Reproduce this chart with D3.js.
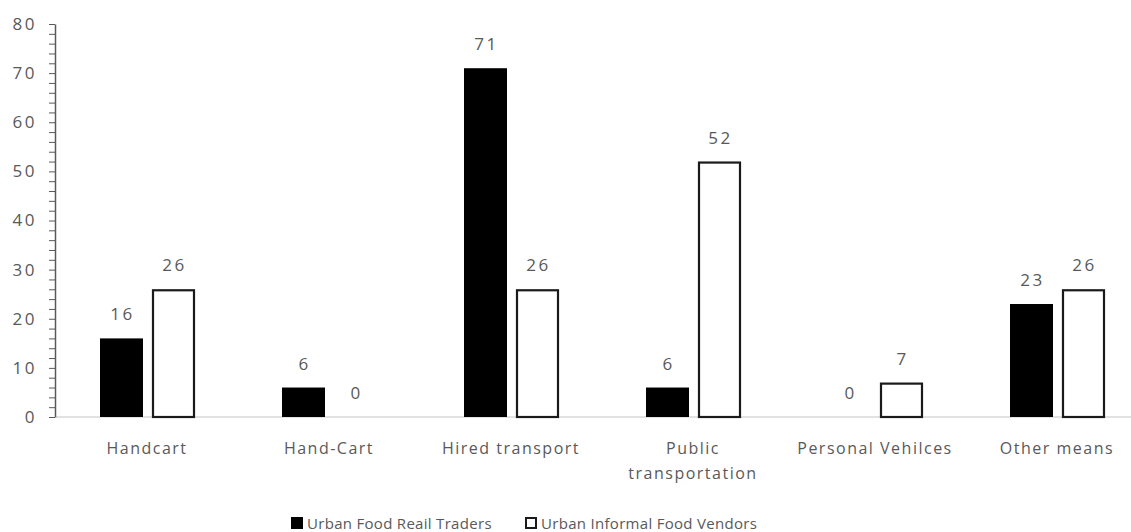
<!DOCTYPE html>
<html>
<head>
<meta charset="utf-8">
<script src="https://cdn.jsdelivr.net/npm/d3@7"></script>
<style>
  html, body { margin: 0; padding: 0; background: #fff; }
  svg { display: block; font-family: "Open Sans", "Noto Sans", sans-serif; }
</style>
</head>
<body>
<svg id="chart" width="1131" height="532"></svg>
<script>
// Means of transport used, by trader group (%)
const categories = ["Handcart", "Hand-Cart", "Hired transport", "Public transportation", "Personal Vehilces", "Other means"];
const seriesNames = ["Urban Food Reail Traders", "Urban Informal Food Vendors"];
const retailTraders = [16, 6, 71, 6, 0, 23];
const informalVendors = [26, 0, 26, 52, 7, 26];
const yTicks = [0, 10, 20, 30, 40, 50, 60, 70, 80];

const svg = d3.select("#chart");
const textColor = "#595959";
const fontFamily = "\"Open Sans\", \"Noto Sans\", sans-serif";

const x = d3.scaleBand().domain(categories).range([56, 1148]).paddingInner(0).paddingOuter(0);
const y = d3.scaleLinear().domain([0, 80]).range([417, 24]);

// two bars per category, placed inside each band
const inner = d3.scaleBand().domain(seriesNames).range([44, 139]).paddingInner(0.173).paddingOuter(0);

// baseline
svg.append("line")
  .attr("x1", 56).attr("x2", 1131)
  .attr("y1", y(0)).attr("y2", y(0))
  .attr("stroke", "#d9d9d9").attr("stroke-width", 1.5);

// y axis with minor ticks every 2
const yAxisG = svg.append("g").attr("transform", "translate(55,0)");
yAxisG.append("g")
  .call(d3.axisLeft(y).tickValues(d3.range(0, 81, 2)).tickSize(6).tickFormat(""))
  .call(g => g.select(".domain").remove())
  .call(g => g.selectAll("line").attr("stroke", "#595959").attr("stroke-width", 1));
yAxisG.append("g")
  .call(d3.axisLeft(y).tickValues(yTicks).tickSize(0).tickPadding(18))
  .call(g => g.select(".domain").attr("stroke", "#595959").attr("stroke-width", 1.5))
  .call(g => g.selectAll("text").attr("fill", textColor).attr("font-size", 17)
    .attr("letter-spacing", 2.5).attr("font-family", fontFamily));

const data = categories.map((c, i) => ({ cat: c, values: [
  { s: seriesNames[0], v: retailTraders[i] },
  { s: seriesNames[1], v: informalVendors[i] }
]}));

const groups = svg.append("g").selectAll("g").data(data).join("g")
  .attr("transform", d => `translate(${x(d.cat)},0)`);

groups.selectAll("rect").data(d => d.values.filter(e => e.v > 0)).join("rect")
  .attr("x", d => inner(d.s) + (d.s === seriesNames[1] ? 1 : 0))
  .attr("width", d => inner.bandwidth() - (d.s === seriesNames[1] ? 2 : 0))
  .attr("y", d => y(d.v) + (d.s === seriesNames[1] ? 1 : 0))
  .attr("height", d => y(0) - y(d.v) - (d.s === seriesNames[1] ? 1 : 0))
  .attr("fill", d => d.s === seriesNames[0] ? "#000" : "#fff")
  .attr("stroke", d => d.s === seriesNames[1] ? "#1a1a1a" : "none")
  .attr("stroke-width", 2.2);

groups.selectAll("text.val").data(d => d.values).join("text")
  .attr("class", "val")
  .attr("x", d => inner(d.s) + inner.bandwidth() / 2 + 1)
  .attr("y", d => y(d.v) - 18)
  .attr("text-anchor", "middle")
  .attr("fill", textColor)
  .attr("font-size", 17)
  .attr("letter-spacing", 2.5)
  .text(d => d.v);

// category labels (wrapped where long)
const catLines = { "Public transportation": ["Public", "transportation"] };
svg.append("g").selectAll("text").data(categories).join("text")
  .attr("x", d => x(d) + x.bandwidth() / 2)
  .attr("y", 454)
  .attr("text-anchor", "middle")
  .attr("fill", textColor)
  .attr("font-size", 16)
  .attr("letter-spacing", 1.5)
  .each(function(d) {
    const lines = catLines[d] || [d];
    d3.select(this).selectAll("tspan").data(lines).join("tspan")
      .attr("x", x(d) + x.bandwidth() / 2)
      .attr("dy", (l, i) => i === 0 ? 0 : 25)
      .text(l => l);
  });

// legend
const legendItems = [
  { name: seriesNames[0], x: 291, fill: "#000" },
  { name: seriesNames[1], x: 525, fill: "#fff" }
];
const lg = svg.append("g").selectAll("g").data(legendItems).join("g")
  .attr("transform", d => `translate(${d.x},517)`);
lg.append("rect")
  .attr("x", d => d.fill === "#fff" ? 1 : 0).attr("y", d => d.fill === "#fff" ? 1 : 0)
  .attr("width", d => d.fill === "#fff" ? 10 : 12).attr("height", d => d.fill === "#fff" ? 10 : 12)
  .attr("fill", d => d.fill)
  .attr("stroke", d => d.fill === "#fff" ? "#1a1a1a" : "none")
  .attr("stroke-width", 2);
lg.append("text")
  .attr("x", 16).attr("y", 12)
  .attr("fill", textColor)
  .attr("font-size", 15)
  .attr("letter-spacing", 0.3)
  .text(d => d.name);
</script>
</body>
</html>
